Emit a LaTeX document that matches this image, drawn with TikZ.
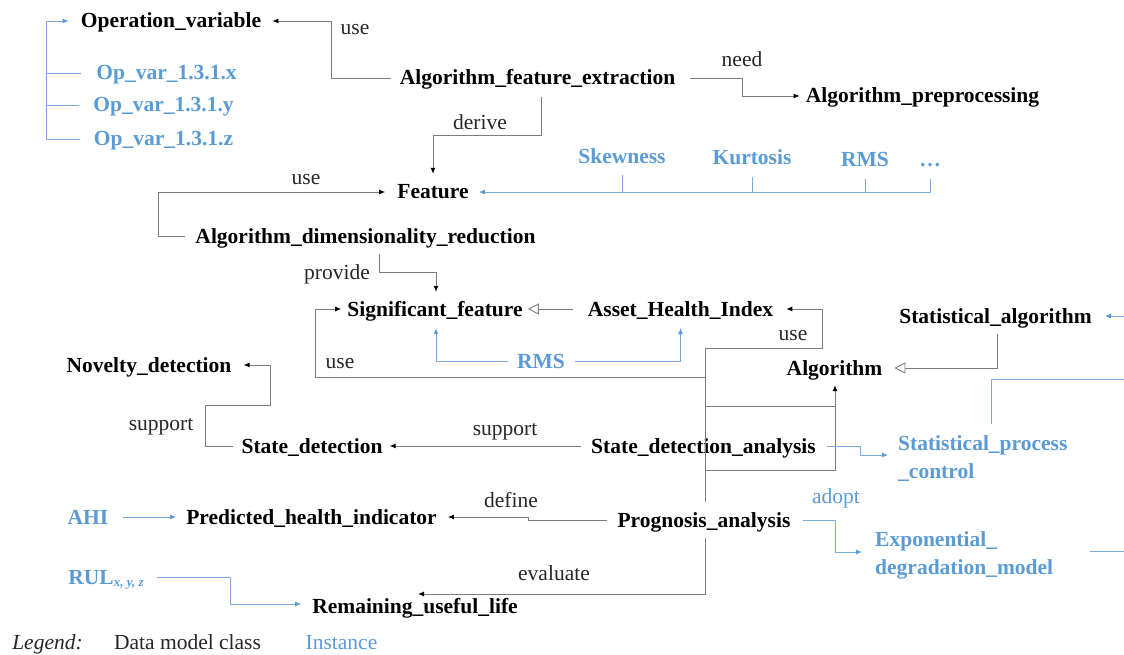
\documentclass[tikz,border=0pt]{standalone}
\usepackage{fontspec}
\setmainfont{Liberation Serif}
\usetikzlibrary{arrows.meta}
\definecolor{myblue}{RGB}{91,155,213}
\definecolor{lblue}{RGB}{120,170,222}
\definecolor{lgray}{RGB}{125,125,125}
\newcommand\fsz{\fontsize{21.5}{24}\selectfont}
\tikzset{
  cls/.style={font=\fsz\bfseries, text=black, inner sep=0pt, text height=14pt, text depth=0pt},
  ins/.style={font=\fsz\bfseries, text=myblue, inner sep=0pt, text height=14pt, text depth=0pt},
  lbl/.style={font=\fsz, text=black!85, inner sep=0pt, text height=14pt, text depth=0pt},
  blbl/.style={font=\fsz, text=myblue, inner sep=0pt, text height=14pt, text depth=0pt},
  gl/.style={draw=lgray, line width=0.9pt},
  bl/.style={draw=lblue, line width=0.9pt},
  arr/.style={-{Latex[length=6pt,width=5pt,color=black]}},
  barr/.style={-{Latex[length=6pt,width=5pt,color=myblue]}},
  inh/.style={-{Triangle[open,length=11pt,width=11pt,fill=white,color=lgray]}}
}
\begin{document}
\begin{tikzpicture}[x=1pt,y=-1pt]
\useasboundingbox[fill=white] (0,0) rectangle (1124,655);
% classes
\node[cls] (opv) at (171,21) {Operation\_variable};
\node[cls] (afe) at (537.5,78) {Algorithm\_feature\_extraction};
\node[cls] (apre) at (922.5,96) {Algorithm\_preprocessing};
\node[cls] (feat) at (433,192) {Feature};
\node[cls] (adr) at (365.5,236) {Algorithm\_dimensionality\_reduction};
\node[cls] (sigf) at (435,309) {Significant\_feature};
\node[cls] (ahi) at (680.5,309) {Asset\_Health\_Index};
\node[cls] (stalg) at (995.5,316) {Statistical\_algorithm};
\node[cls] (algo) at (834.5,368) {Algorithm};
\node[cls] (nov) at (149,365) {Novelty\_detection};
\node[cls] (sd) at (312,446) {State\_detection};
\node[cls] (sda) at (703.5,446) {State\_detection\_analysis};
\node[cls] (prog) at (704,520) {Prognosis\_analysis};
\node[cls] (phi) at (311.5,517) {Predicted\_health\_indicator};
\node[cls] (rulife) at (415,606) {Remaining\_useful\_life};
% instances
\node[ins] (ox) at (166.5,73) {Op\_var\_1.3.1.x};
\node[ins] (oy) at (163.5,105) {Op\_var\_1.3.1.y};
\node[ins] (oz) at (163.5,139) {Op\_var\_1.3.1.z};
\node[ins] (skew) at (622,157) {Skewness};
\node[ins] (kurt) at (752,158) {Kurtosis};
\node[ins] (rmsa) at (865,160) {RMS};
\node[ins] (dots) at (930,160) {\dots};
\node[ins] (rmsb) at (541,361) {RMS};
\node[ins,anchor=west] (spc1) at (898,443) {Statistical\_process};
\node[ins,anchor=west] (spc2) at (898,471) {\_control};
\node[ins,anchor=west] (edm1) at (875,539) {Exponential\_};
\node[ins,anchor=west] (edm2) at (875,567) {degradation\_model};
\node[ins] (ahiI) at (88,517) {AHI};
\node[ins] (rul) at (106,577) {RUL\raisebox{-2pt}{\fontsize{13}{13}\selectfont\bfseries\itshape x, y, z}};
% labels
\node[lbl] at (355,28) {use};
\node[lbl] at (742,60) {need};
\node[lbl] at (480,123) {derive};
\node[lbl] at (306,178) {use};
\node[lbl] at (337,272) {provide};
\node[lbl] at (340,361) {use};
\node[lbl] at (793,333) {use};
\node[lbl] at (161,423) {support};
\node[lbl] at (505,428) {support};
\node[lbl] at (511,500) {define};
\node[lbl] at (554,573) {evaluate};
\node[blbl] at (836,496) {adopt};
% legend
\node[lbl,font=\fsz\itshape] (lg) at (47.5,642) {Legend:};
\node[lbl] (lgc) at (187.5,642) {Data model class};
\node[blbl] (lgi) at (341.5,642) {Instance};
% instance bracket for Operation_variable
\draw[bl,barr] (46,139) -- (46,21) -- ([xshift=-12pt]opv.west);
\draw[bl] ([xshift=-15pt]ox.west) -- (46,73);
\draw[bl] ([xshift=-14pt]oy.west) -- (46,105);
\draw[bl] ([xshift=-14pt]oz.west) -- (46,139);
% use: afe -> opv
\draw[gl,arr] ([xshift=-9pt]afe.west) -| (331,21) -- ([xshift=11pt]opv.east);
% need: afe -> apre
\draw[gl,arr] ([xshift=15pt]afe.east) -| (742,96) -- ([xshift=-6pt]apre.west);
% derive: afe -> feat
\draw[gl,arr] (541,97) -- (541,135) -| ([yshift=11pt]feat.north);
% instances -> feat
\draw[bl,barr] ([yshift=-12pt]dots.south) -- (dots.south |- feat) -- ([xshift=10pt]feat.east);
\draw[bl] ([yshift=-11pt]skew.south) -- (skew.south |- feat);
\draw[bl] ([yshift=-12pt]kurt.south) -- (kurt.south |- feat);
\draw[bl] ([yshift=-12pt]rmsa.south) -- (rmsa.south |- feat);
% use: adr -> feat
\draw[gl,arr] ([xshift=-10pt]adr.west) -| (158,192) -- ([xshift=-12pt]feat.west);
% provide: adr -> sigf
\draw[gl,arr] (379,254) -- (379,272) -| ([xshift=1pt,yshift=10pt]sigf.north);
% ahi -> sigf (generalisation)
\draw[gl,inh] ([xshift=-15pt]ahi.west) -- ([xshift=5pt]sigf.east);
% RMS -> sigf, ahi
\draw[bl,barr] ([xshift=-9pt]rmsb.west) -| ([xshift=1pt,yshift=-12pt]sigf.south);
\draw[bl,barr] ([xshift=10pt]rmsb.east) -| ([yshift=-12pt]ahi.south);
% use: sda -> sigf
\draw[gl,arr] ([xshift=1.5pt,yshift=12pt]sda.north) -- (705,377) -| (315,309) -- ([xshift=-6pt]sigf.west);
% use: prog -> ahi
\draw[gl,arr] ([xshift=1pt,yshift=11pt]prog.north) -- (705,348) -| (822,309) -- ([xshift=13pt]ahi.east);
% sda, prog -> algo
\draw[gl] (705,406) -- (835,406);
\draw[gl,arr] (705,470) -| ([xshift=0.5pt,yshift=-10pt]algo.south);
% stalg -> algo (generalisation)
\draw[gl,inh] ([xshift=1.5pt,yshift=-11pt]stalg.south) |- ([xshift=12pt]algo.east);
% off-picture instance links
\draw[bl,barr] (1124,316) -- ([xshift=13pt]stalg.east);
\draw[bl] (991,424) -- (991,379) -- (1124,379);
\draw[bl] ([xshift=37pt]edm2.east |- 0,551) -- (1124,551);
% sda -> spc
\draw[bl,barr] ([xshift=11pt]sda.east) -| (860,455) -- ([xshift=-10pt]spc1.west |- 0,455);
% prog -> edm (adopt)
\draw[bl,barr] ([xshift=12pt]prog.east) -| (835,552) -- ([xshift=-13pt]edm1.west |- 0,552);
% support: sd -> nov
\draw[gl,arr] ([xshift=-8pt]sd.west) -| (205,405) -| (270,365) -- ([xshift=12pt]nov.east);
% support: sda -> sd
\draw[gl,arr] ([xshift=-10pt]sda.west) -- ([xshift=7pt]sd.east);
% define: prog -> phi
\draw[gl,arr] ([xshift=-10pt]prog.west) -- (528,520) -- (528,517) -- ([xshift=11pt]phi.east);
% evaluate: prog -> rulife
\draw[gl,arr] ([xshift=1pt,yshift=-11pt]prog.south) -- (705,594) -- (418,594);
% AHI -> phi
\draw[bl,barr] ([xshift=14pt]ahiI.east) -- ([xshift=-10pt]phi.west);
% RUL -> rulife
\draw[bl,barr] (157,577) -| (230,604) -- ([xshift=-11pt]rulife.west |- 0,604);
\end{tikzpicture}
\end{document}
